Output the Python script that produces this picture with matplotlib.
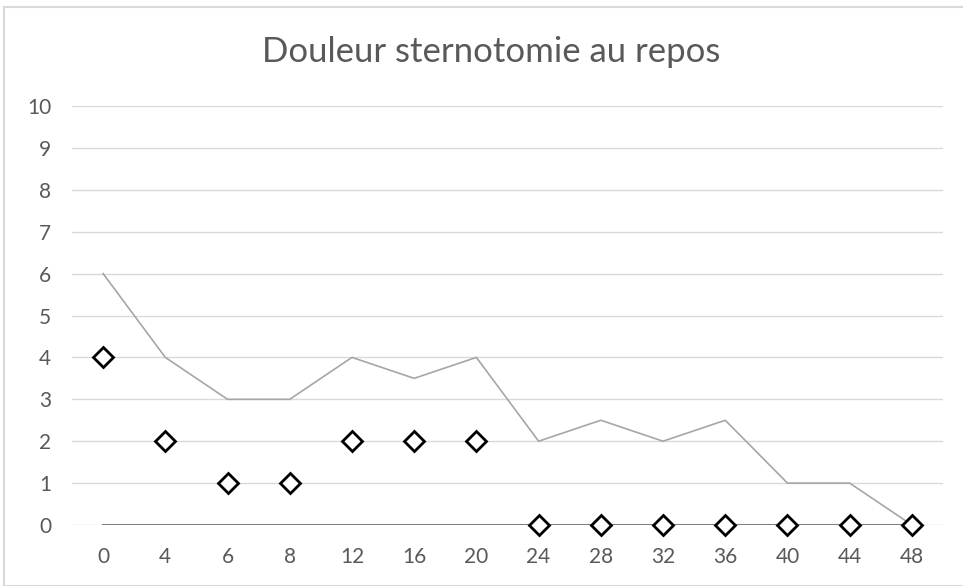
import matplotlib
matplotlib.use("Agg")
import matplotlib.pyplot as plt
from matplotlib.patches import Rectangle

categories = ["0", "4", "6", "8", "12", "16", "20", "24", "28", "32", "36", "40", "44", "48"]
max_values = [6, 4, 3, 3, 4, 3.5, 4, 2, 2.5, 2, 2.5, 1, 1, 0]
min_values = [0, 0, 0, 0, 0, 0, 0, 0, 0, 0, 0, 0, 0, 0]
median_values = [4, 2, 1, 1, 2, 2, 2, 0, 0, 0, 0, 0, 0, 0]
title = "Douleur sternotomie au repos"
yticks = list(range(0, 11))

plt.rcParams['font.family'] = ['Lato', 'DejaVu Sans']

fig = plt.figure(figsize=(9.63, 5.86), dpi=100)
ax = fig.add_axes([72/963, 1-525/586, (943-72)/963, (525-106)/586])

x = list(range(len(categories)))
ax.plot(x, max_values, color="#a6a6a6", lw=1.2, zorder=2)
ax.plot(x, min_values, color="#7f7f7f", lw=1.5, zorder=2)
ax.plot(x, median_values, linestyle="none", marker="D", markersize=10.5,
        markerfacecolor="white", markeredgecolor="black", markeredgewidth=2,
        zorder=3, clip_on=False)

ax.set_xlim(-0.5, len(categories) - 0.5)
ax.set_ylim(0, 10)
ax.set_yticks(yticks)
ax.set_xticks(x)
ax.set_xticklabels(categories)
ax.yaxis.grid(True, color="#d9d9d9", lw=1)
ax.set_axisbelow(True)
for s in ax.spines.values():
    s.set_visible(False)
ax.tick_params(length=0, labelsize=15, labelcolor="#595959")
ax.tick_params(axis='x', pad=16)
ax.tick_params(axis='y', pad=15)

fig.text(491/963, 1-52/586, title, ha="center", va="center", fontsize=25, color="#595959")

fig.patches.append(Rectangle((4/963, 0), 1, 1-7/586, transform=fig.transFigure,
                             fill=False, edgecolor="#d9d9d9", lw=1.5))

fig.savefig("out.png", dpi=100)
